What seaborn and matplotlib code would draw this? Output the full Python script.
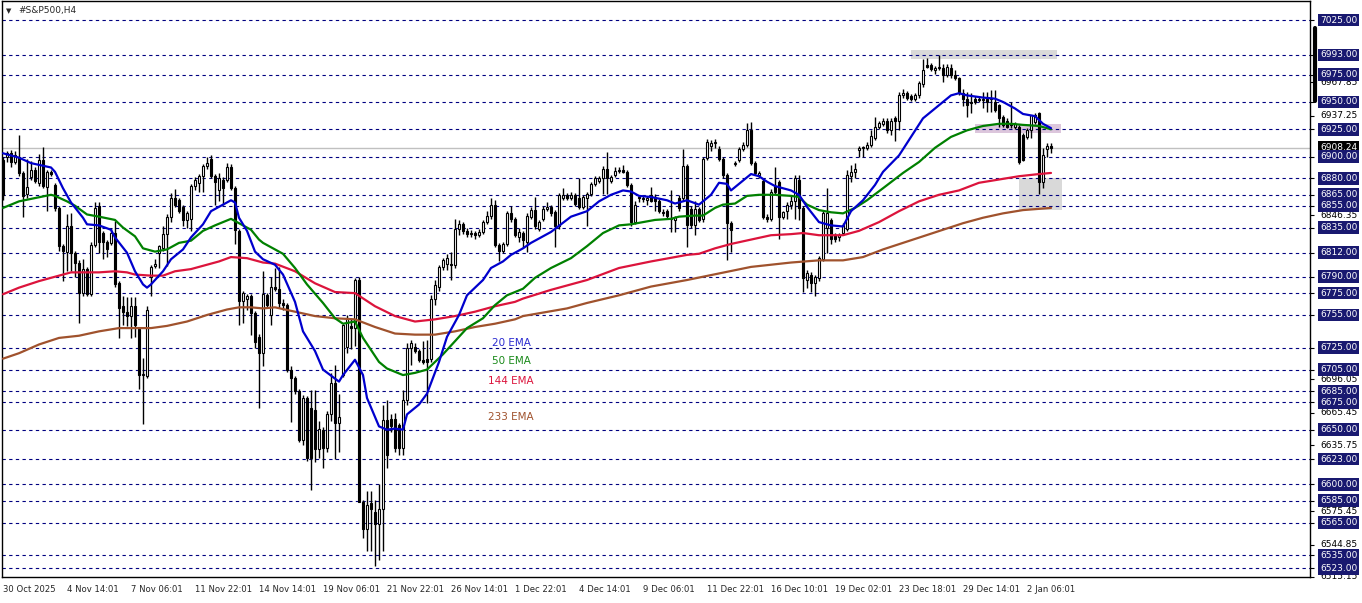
import numpy as np
import pandas as pd
import matplotlib
matplotlib.use("Agg")
import matplotlib.pyplot as plt
import matplotlib.transforms as mtransforms
from matplotlib.lines import Line2D
from matplotlib.patches import Rectangle
import seaborn as sns

# --- H4 candles (bar index = position) ---
opens = [6897,6900,6903,6895,6900,6885,6866,6881,6888,6876,
         6897,6872,6886,6874,6853,6818,6813,6836,6812,6803,
         6775,6797,6774,6819,6855,6830,6822,6821,6830,6784,
         6763,6758,6754,6763,6742,6700,6699,6790,6800,6812,
         6816,6829,6845,6862,6860,6854,6842,6843,6873,6876,
         6882,6891,6898,6882,6869,6879,6879,6890,6871,6832,
         6768,6770,6772,6757,6735,6720,6773,6755,6781,6779,
         6766,6764,6705,6697,6685,6641,6679,6670,6668,6632,
         6650,6633,6664,6693,6656,6700,6726,6745,6743,6787,
         6584,6559,6583,6575,6564,6577,6659,6660,6660,6654,
         6633,6677,6725,6726,6722,6714,6715,6715,6770,6781,
         6799,6802,6802,6801,6834,6838,6832,6829,6830,6828,
         6831,6840,6846,6856,6819,6814,6820,6848,6843,6826,
         6830,6822,6845,6851,6834,6843,6852,6854,6849,6836,
         6862,6865,6862,6865,6862,6854,6862,6866,6875,6878,
         6880,6889,6878,6883,6887,6888,6886,6874,6840,6863,
         6862,6860,6865,6863,6859,6849,6850,6844,6842,6862,
         6862,6891,6852,6837,6852,6843,6899,6910,6912,6907,
         6898,6883,6839,6893,6897,6907,6911,6924,6894,6883,
         6878,6845,6843,6873,6877,6845,6850,6856,6859,6879,
         6853,6787,6792,6784,6789,6806,6835,6842,6828,6826,
         6830,6834,6882,6886,6906,6908,6908,6911,6917,6927,
         6930,6933,6924,6935,6933,6956,6958,6955,6953,6956,
         6966,6984,6984,6979,6981,6981,6975,6981,6975,6972,
         6958,6953,6950,6953,6953,6952,6953,6953,6950,6947,
         6936,6933,6930,6927,6927,6920,6918,6924,6932,6940,
         6877,6907,6910]
highs = [6900,6905,6906,6905,6920,6887,6898,6896,6890,6902,
         6909,6888,6888,6876,6855,6820,6847,6848,6814,6805,
         6806,6799,6822,6858,6858,6832,6824,6835,6841,6786,
         6772,6771,6771,6771,6744,6716,6763,6801,6806,6819,
         6836,6847,6867,6870,6862,6856,6850,6875,6881,6884,
         6893,6900,6901,6884,6885,6881,6894,6893,6873,6834,
         6777,6774,6774,6759,6738,6795,6775,6790,6798,6799,
         6770,6766,6708,6699,6687,6682,6681,6686,6686,6658,
         6652,6667,6702,6709,6683,6747,6755,6752,6789,6790,
         6586,6594,6594,6586,6600,6673,6677,6664,6665,6656,
         6686,6729,6732,6729,6724,6731,6732,6773,6787,6801,
         6807,6811,6813,6843,6842,6840,6835,6833,6832,6834,
         6842,6850,6862,6860,6821,6822,6850,6855,6845,6835,
         6832,6848,6854,6863,6842,6855,6858,6856,6851,6867,
         6871,6867,6868,6867,6880,6865,6868,6877,6882,6882,
         6891,6904,6883,6890,6890,6892,6888,6876,6859,6865,
         6864,6864,6872,6866,6861,6852,6852,6869,6846,6865,
         6907,6893,6855,6859,6854,6900,6916,6915,6916,6910,
         6900,6885,6841,6896,6909,6913,6931,6932,6896,6887,
         6880,6847,6870,6890,6879,6850,6858,6865,6883,6883,
         6855,6796,6794,6792,6809,6850,6871,6844,6830,6830,
         6839,6888,6892,6894,6910,6910,6913,6924,6936,6933,
         6935,6935,6935,6937,6959,6962,6960,6957,6958,6969,
         6989,6990,6986,6983,6993,6985,6985,6985,6979,6973,
         6962,6959,6958,6955,6955,6959,6959,6961,6961,6948,
         6938,6935,6950,6932,6929,6922,6926,6938,6940,6941,
         6908,6912,6912]
lows = [6860,6895,6890,6893,6882,6845,6862,6879,6876,6873,
        6871,6850,6882,6850,6814,6786,6795,6795,6790,6748,
        6772,6772,6772,6817,6812,6806,6808,6819,6781,6734,
        6746,6745,6734,6735,6687,6655,6697,6772,6798,6798,
        6814,6800,6840,6854,6848,6836,6835,6832,6869,6868,
        6868,6889,6880,6856,6859,6856,6877,6869,6820,6746,
        6748,6760,6737,6725,6670,6708,6762,6746,6777,6761,
        6760,6703,6657,6683,6639,6636,6621,6595,6620,6624,
        6615,6630,6658,6623,6630,6698,6720,6724,6727,6584,
        6551,6539,6539,6525,6531,6539,6615,6648,6630,6627,
        6627,6673,6709,6720,6712,6710,6674,6712,6764,6777,
        6796,6796,6787,6798,6828,6829,6826,6826,6825,6826,
        6829,6838,6843,6817,6804,6812,6818,6840,6826,6822,
        6816,6813,6843,6834,6832,6841,6850,6846,6817,6834,
        6860,6860,6860,6855,6852,6852,6836,6864,6873,6876,
        6866,6866,6876,6881,6885,6885,6872,6836,6838,6858,
        6858,6856,6858,6850,6848,6846,6844,6831,6831,6850,
        6859,6817,6835,6828,6840,6840,6897,6905,6908,6896,
        6880,6805,6813,6891,6895,6905,6909,6892,6883,6880,
        6843,6840,6841,6866,6825,6843,6843,6852,6843,6842,
        6776,6780,6776,6772,6786,6804,6812,6820,6822,6823,
        6828,6832,6877,6880,6900,6900,6906,6909,6915,6925,
        6928,6922,6920,6914,6924,6954,6952,6951,6951,6954,
        6964,6981,6978,6976,6979,6968,6973,6972,6970,6956,
        6946,6936,6940,6948,6950,6944,6941,6941,6941,6927,
        6927,6926,6926,6925,6893,6896,6916,6917,6930,6866,
        6871,6900,6903]
closes = [6865,6903,6895,6901,6885,6864,6872,6888,6878,6897,
          6873,6886,6884,6853,6818,6814,6836,6812,6803,6775,
          6797,6774,6819,6853,6822,6822,6815,6830,6783,6761,
          6758,6754,6763,6746,6700,6701,6760,6799,6802,6818,
          6829,6845,6862,6856,6850,6842,6848,6873,6879,6882,
          6891,6894,6882,6877,6880,6871,6890,6871,6833,6768,
          6775,6772,6757,6730,6720,6774,6764,6781,6779,6766,
          6764,6705,6697,6685,6641,6679,6624,6624,6632,6651,
          6633,6664,6693,6656,6662,6746,6752,6743,6787,6584,
          6559,6581,6577,6564,6577,6659,6627,6653,6633,6633,
          6677,6725,6729,6722,6714,6712,6712,6770,6782,6799,
          6805,6807,6801,6834,6838,6832,6829,6830,6828,6831,
          6840,6846,6856,6819,6814,6820,6848,6843,6828,6831,
          6824,6846,6851,6836,6840,6852,6854,6848,6836,6865,
          6865,6862,6865,6857,6854,6863,6866,6875,6880,6880,
          6889,6880,6881,6887,6888,6886,6874,6840,6856,6862,
          6861,6862,6859,6859,6850,6848,6846,6843,6845,6853,
          6891,6837,6837,6852,6842,6898,6913,6912,6913,6898,
          6883,6839,6833,6894,6907,6911,6924,6894,6885,6885,
          6845,6843,6868,6868,6845,6849,6856,6859,6880,6853,
          6789,6793,6784,6790,6807,6848,6848,6825,6825,6828,
          6837,6883,6886,6889,6908,6909,6911,6919,6927,6931,
          6933,6924,6933,6933,6956,6958,6954,6953,6956,6967,
          6979,6982,6980,6981,6982,6975,6982,6975,6972,6958,
          6953,6947,6949,6950,6952,6952,6950,6953,6943,6935,
          6929,6927,6929,6930,6895,6897,6924,6938,6938,6877,
          6901,6910,6908.24]

# --- moving averages, sampled off the chart ---
ema20_bars = [0,4,7,12,13,15,17,20,21,24,27,28,31,33,35,36,37,40,42,45,
              47,50,52,55,57,58,59,61,63,65,68,70,73,75,78,80,84,85,88,90,
              91,94,96,98,100,101,104,106,109,111,114,116,120,122,125,127,130,132,137,142,
              146,149,152,155,157,159,162,166,168,171,174,177,179,181,182,185,187,189,191,193,
              197,199,201,204,205,207,210,212,215,218,220,224,227,230,234,237,239,241,245,248,
              250,253,255,258,260,262]
ema20_vals = [6903,6899,6894,6890,6886,6871,6858,6844,6838,6837,6833,6826,6812,6795,6783,6780,6783,6795,6806,6815,
              6826,6838,6850,6856,6860,6858,6844,6832,6813,6806,6801,6792,6767,6740,6722,6705,6694,6700,6714,6700,
              6679,6653,6650,6651,6650,6664,6673,6683,6712,6735,6755,6773,6787,6798,6804,6810,6816,6821,6831,6845,
              6850,6859,6865,6869,6868,6864,6863,6860,6857,6860,6856,6865,6876,6875,6869,6878,6884,6882,6877,6873,
              6869,6865,6854,6840,6839,6837,6836,6850,6860,6874,6886,6901,6918,6935,6947,6956,6958,6956,6954,6953,
              6950,6944,6939,6937,6930,6926]
ema50_bars = [0,4,8,12,13,16,18,21,24,28,30,33,35,38,41,44,47,50,53,57,
              59,62,64,65,66,70,73,76,80,83,85,88,90,94,96,100,103,106,110,113,
              116,120,123,126,130,133,137,142,146,150,154,157,160,163,167,169,173,175,178,180,
              183,186,189,193,197,199,201,204,207,210,213,216,220,225,229,233,237,241,245,249,
              252,255,259,262]
ema50_vals = [6853,6859,6862,6865,6864,6859,6855,6847,6845,6842,6835,6827,6816,6813,6815,6821,6823,6832,6837,6843,
              6839,6833,6824,6821,6819,6811,6798,6783,6766,6752,6747,6749,6734,6712,6706,6700,6702,6705,6719,6731,
              6743,6752,6764,6773,6779,6789,6798,6807,6818,6830,6837,6838,6840,6842,6843,6845,6846,6846,6853,6856,
              6857,6864,6865,6865,6864,6863,6856,6851,6849,6848,6853,6860,6871,6885,6895,6908,6918,6924,6928,6930,
              6930,6929,6928,6925]
ema144_bars = [0,4,9,14,17,21,24,28,31,33,37,40,43,47,50,54,57,61,63,65,
               68,73,78,83,88,93,98,103,108,113,118,123,128,130,137,146,154,162,171,174,
               178,182,187,192,197,200,204,210,214,219,224,229,234,239,244,249,254,259,262]
ema144_vals = [6774,6780,6786,6791,6794,6794,6794,6795,6794,6792,6791,6791,6795,6797,6800,6804,6808,6807,6805,6803,
               6802,6795,6784,6776,6775,6763,6754,6749,6751,6754,6758,6763,6767,6770,6778,6787,6798,6804,6810,6811,
               6816,6820,6824,6828,6829,6830,6828,6828,6832,6840,6850,6859,6865,6869,6876,6879,6882,6884,6885]
ema233_bars = [0,4,9,14,19,24,29,37,41,46,51,56,59,62,65,68,73,78,83,88,
               93,98,103,108,113,118,123,128,130,141,146,154,162,171,179,187,197,204,210,215,
               220,225,230,235,240,245,250,255,262]
ema233_vals = [6715,6720,6728,6734,6736,6740,6743,6743,6745,6749,6755,6760,6762,6762,6761,6762,6758,6754,6752,6751,
               6744,6738,6737,6737,6740,6744,6747,6751,6754,6761,6766,6773,6781,6787,6793,6799,6803,6805,6805,6808,
               6815,6821,6827,6833,6839,6844,6848,6851,6853]

time_labels = ["30 Oct 2025", "4 Nov 14:01", "7 Nov 06:01", "11 Nov 22:01", "14 Nov 14:01",
               "19 Nov 06:01", "21 Nov 22:01", "26 Nov 14:01", "1 Dec 22:01", "4 Dec 14:01",
               "9 Dec 06:01", "11 Dec 22:01", "16 Dec 10:01", "19 Dec 02:01", "23 Dec 18:01",
               "29 Dec 14:01", "2 Jan 06:01"]
level_prices = [7025, 6993, 6975, 6950, 6925, 6900, 6880, 6865, 6855, 6835, 6812, 6790, 6775,
                6755, 6725, 6705, 6685, 6675, 6650, 6623, 6600, 6585, 6565, 6535, 6523]
scale_prices = [6967.85, 6937.25, 6846.35, 6696.05, 6665.45, 6635.75,
                6575.45, 6544.85, 6515.15]
last_price = 6908.24

df = pd.DataFrame({"open": opens, "high": highs, "low": lows, "close": closes})
df["bar"] = np.arange(len(df))

sns.set_style("white")
plt.rcParams["font.family"] = ["DejaVu Sans"]

W, H = 1362, 603
fig = plt.figure(figsize=(W / 100, H / 100), dpi=100)
ax = fig.add_axes([2 / W, (H - 577) / H, 1308 / W, 576 / H])
ax.set_xlim(-0.25, -0.25 + 1308 / 4)
ax.set_ylim(6515.7, 7042.4)

# horizontal levels
for p in level_prices:
    ax.axhline(p, color="#000080", lw=0.8, ls=(0, (3, 3)), zorder=1)
ax.axhline(last_price, color="#c0c0c0", lw=1, zorder=1)

# zones
zones = [(227, 263.5, 6989, 6997.5, "#d9d9d9"),
         (243, 264.5, 6922, 6929.5, "#dcc6dc"),
         (254, 264.75, 6851.5, 6880.7, "#d9d9d9")]
for x0, x1, y0, y1, c in zones:
    ax.add_patch(Rectangle((x0, y0), x1 - x0, y1 - y0, facecolor=c, edgecolor="none", zorder=0.5))

# candles
up = df["close"] >= df["open"]
ax.vlines(df["bar"], df["low"], df["high"], color="black", lw=1, zorder=2)
body_lo = df[["open", "close"]].min(axis=1)
body_h = (df["close"] - df["open"]).abs().clip(lower=0.7)
ax.bar(df["bar"], body_h, bottom=body_lo, width=0.72,
       color=np.where(up, "white", "black"), edgecolor="black", linewidth=0.8, zorder=3)

# EMAs
emas = [(ema233_bars, ema233_vals, "#a0522d"), (ema144_bars, ema144_vals, "#dc143c"),
        (ema50_bars, ema50_vals, "#008000"), (ema20_bars, ema20_vals, "#0000cd")]
for b, v, c in emas:
    sns.lineplot(x=b, y=v, color=c, lw=1.6, ax=ax, zorder=4)

ax.text(127, 6729, "20 EMA", color="#2a2ad0", fontsize=7.5, ha="center", va="center")
ax.text(127, 6713, "50 EMA", color="#1a8a1a", fontsize=7.5, ha="center", va="center")
ax.text(127, 6695, "144 EMA", color="#dc143c", fontsize=7.5, ha="center", va="center")
ax.text(127, 6662, "233 EMA", color="#a0522d", fontsize=7.5, ha="center", va="center")

# frame
for s in ax.spines.values():
    s.set_color("black")
    s.set_linewidth(1)

# time axis
ax.set_xticks([16 * i for i in range(len(time_labels))])
ax.set_xticklabels(time_labels, fontsize=6.1, ha="left")
off = mtransforms.ScaledTranslation(3 / 100, 0, fig.dpi_scale_trans)
for lab in ax.get_xticklabels():
    lab.set_transform(lab.get_transform() + off)
ax.tick_params(axis="x", direction="out", length=4, width=0.8, color="black", pad=2)

# price scale
ax.yaxis.tick_right()
ax.set_yticks(level_prices + scale_prices)
ax.set_yticklabels([])
ax.tick_params(axis="y", direction="out", length=3, width=0.8, color="black")
ax.set_xlabel("")
ax.set_ylabel("")

tr = mtransforms.blended_transform_factory(fig.transFigure, ax.transData)
xl = 1320 / W
for p in scale_prices:
    ax.text(xl, p, f"{p:.2f}", transform=tr, fontsize=6.5, color="black",
            va="center", ha="left", clip_on=False, zorder=6)
ax.text(xl, last_price, f"{last_price:.2f}", transform=tr, fontsize=6.5, color="white",
        va="center", ha="left", clip_on=False, zorder=7,
        bbox=dict(boxstyle="square,pad=0.2", facecolor="black", edgecolor="none"))
for p in level_prices:
    ax.text(xl, p, f"{p:.2f}", transform=tr, fontsize=6.5, color="white",
            va="center", ha="left", clip_on=False, zorder=8,
            bbox=dict(boxstyle="square,pad=0.2", facecolor="#191970", edgecolor="none"))

fig.add_artist(Line2D([1315 / W] * 2, [1 - 28 / H, 1 - 101 / H], color="black", lw=3))

# header
fig.text(6 / W, 1 - 11 / H, "\u25BC", fontsize=5, va="center", ha="left")
fig.text(18 / W, 1 - 11 / H, "#S&P500,H4", fontsize=6.5, va="center", ha="left")

fig.savefig("out.png", dpi=100, facecolor="white")
